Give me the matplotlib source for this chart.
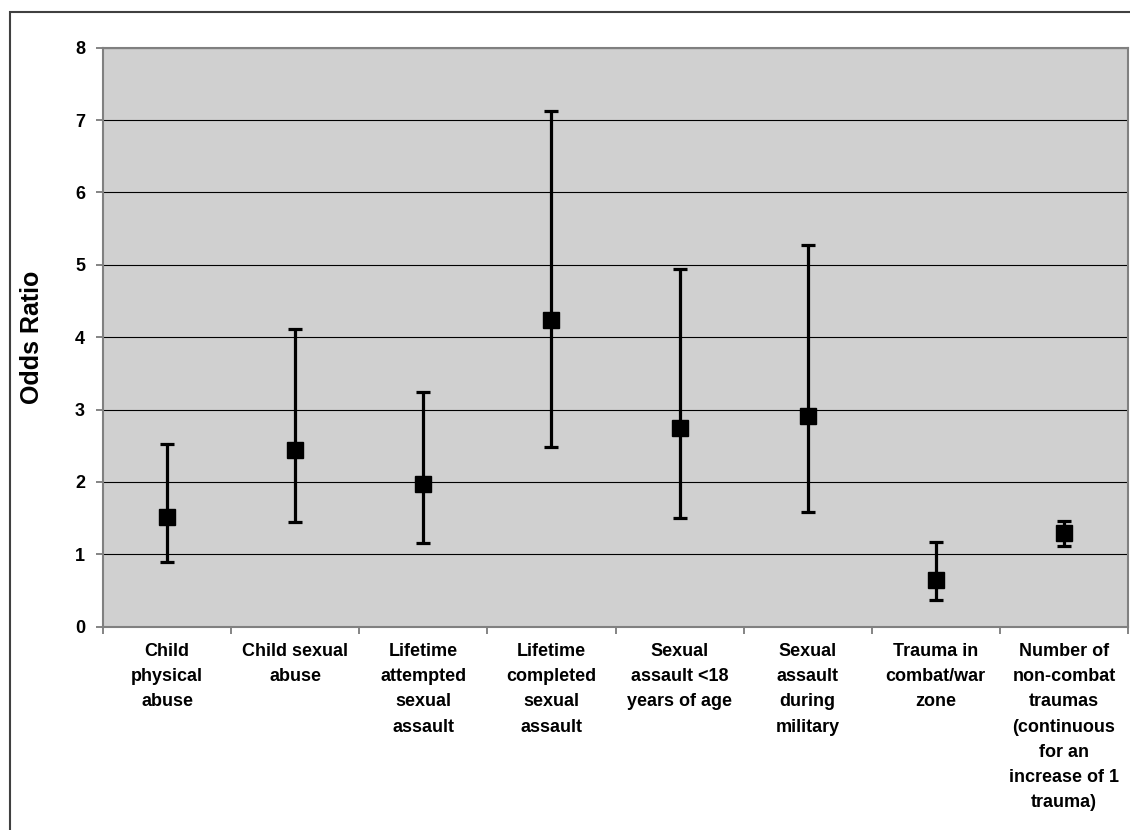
import matplotlib.pyplot as plt
from matplotlib.patches import Rectangle

plt.rcParams['font.family'] = ['Liberation Sans', 'DejaVu Sans']

categories = [
    'Child\nphysical\nabuse',
    'Child sexual\nabuse',
    'Lifetime\nattempted\nsexual\nassault',
    'Lifetime\ncompleted\nsexual\nassault',
    'Sexual\nassault <18\nyears of age',
    'Sexual\nassault\nduring\nmilitary',
    'Trauma in\ncombat/war\nzone',
    'Number of\nnon-combat\ntraumas\n(continuous\nfor an\nincrease of 1\ntrauma)',
]
odds_ratio = [1.52, 2.44, 1.97, 4.24, 2.75, 2.91, 0.65, 1.29]
ci_lower = [0.89, 1.44, 1.15, 2.48, 1.50, 1.59, 0.37, 1.12]
ci_upper = [2.52, 4.12, 3.24, 7.12, 4.94, 5.28, 1.17, 1.46]

fig = plt.figure(figsize=(11.3, 8.3), dpi=100)
# outer chart border (only the top and left edges fall inside the image)
fig.patches.append(Rectangle((10 / 1130, -0.05), 1.1, 1.05 - 12 / 830,
                             transform=fig.transFigure, fill=False,
                             edgecolor='#404040', linewidth=1.5))

ax = fig.add_axes([103 / 1130, 1 - 626.7 / 830, 1025 / 1130, 579 / 830])
ax.set_facecolor('#d0d0d0')

x = list(range(len(categories)))
yerr = [[v - lo for v, lo in zip(odds_ratio, ci_lower)],
        [hi - v for v, hi in zip(odds_ratio, ci_upper)]]
ax.errorbar(x, odds_ratio, yerr=yerr, fmt='s', color='black', ecolor='black',
            markersize=11.5, elinewidth=2.3, capsize=5, capthick=2.3, zorder=3)

ax.set_xlim(-0.5, len(categories) - 0.5)
ax.set_ylim(0, 8)
ax.set_yticks(range(0, 9))
ax.yaxis.grid(True, color='black', linewidth=0.8)
ax.set_axisbelow(True)

# tick marks sit between categories, labels sit on the categories
ax.set_xticks([i + 0.5 for i in range(-1, len(categories))], minor=False)
ax.set_xticklabels([])
ax.set_xticks(x, minor=True)
ax.set_xticklabels(categories, minor=True, fontsize=13, fontweight='bold',
                   linespacing=1.62, va='top')
ax.tick_params(axis='x', which='minor', length=0, pad=12)
ax.tick_params(axis='x', which='major', length=5, width=1.2, color='#707070')
ax.tick_params(axis='y', length=5, width=1.2, color='#707070', pad=8,
               labelsize=13)
for lbl in ax.get_yticklabels():
    lbl.set_fontweight('bold')

for s in ax.spines.values():
    s.set_color('#808080')
    s.set_linewidth(1.5)

ax.set_ylabel('Odds Ratio', fontsize=18, fontweight='bold', labelpad=22)

fig.savefig('out.png', dpi=100)
